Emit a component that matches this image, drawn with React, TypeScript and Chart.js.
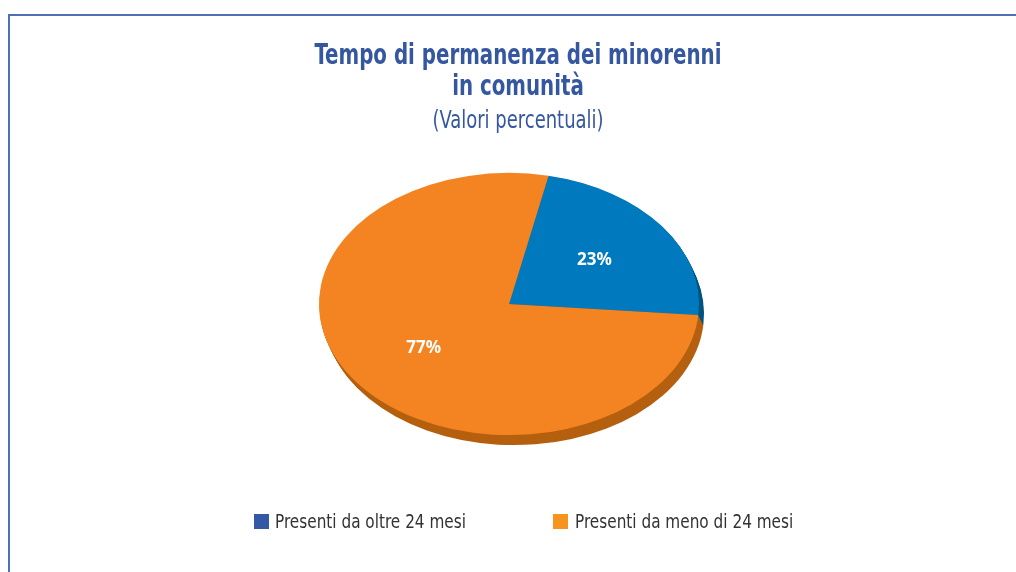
import React, { useEffect, useRef } from "react";
import { Chart, registerables } from "chart.js";

Chart.register(...registerables);

const categories = ["Presenti da oltre 24 mesi", "Presenti da meno di 24 mesi"];
const values = [23, 77];
const sliceColors = ["#0079BE", "#F38421"];
const sideColors = ["#00557F", "#B5600F"];
const legendColors = ["#3359A4", "#F7941D"];
const titleLines = ["Tempo di permanenza dei minorenni", "in comunità"];
const subtitleText = "(Valori percentuali)";

const PIE_CX = 509;
const PIE_CY = 304;
const PIE_R = 190;
const PIE_K = 0.69;
const PIE_DEPTH = 10;
const PIE_DX = 0.5;

const FONT = "'DejaVu Sans Condensed', 'DejaVu Sans', sans-serif";

const pie3d = {
  id: "pie3d",
  beforeDatasetsDraw(chart: any) {
    const meta = chart.getDatasetMeta(0);
    if (!meta.data.length) return;
    const ctx = chart.ctx;
    const cx = meta.data[0].x;
    const cy = meta.data[0].y;
    ctx.save();
    ctx.translate(PIE_CX, PIE_CY);
    ctx.scale(1, PIE_K);
    ctx.translate(-cx, -cy);
    for (let i = PIE_DEPTH; i >= 1; i--) {
      meta.data.forEach((arc: any, idx: number) => {
        const ox = cx + i * PIE_DX;
        const oy = cy + i / PIE_K;
        ctx.beginPath();
        ctx.moveTo(ox, oy);
        ctx.arc(ox, oy, arc.outerRadius, arc.startAngle, arc.endAngle);
        ctx.closePath();
        ctx.fillStyle = sideColors[idx];
        ctx.fill();
      });
    }
  },
  afterDatasetsDraw(chart: any) {
    const meta = chart.getDatasetMeta(0);
    if (!meta.data.length) return;
    const ctx = chart.ctx;
    ctx.restore();
    ctx.save();
    ctx.fillStyle = "#ffffff";
    ctx.font = "bold 17px 'Noto Sans'";
    ctx.textAlign = "center";
    ctx.textBaseline = "middle";
    const total = values.reduce((a, b) => a + b, 0);
    meta.data.forEach((arc: any, idx: number) => {
      const mid = (arc.startAngle + arc.endAngle) / 2;
      const f = 0.56;
      const x = PIE_CX + Math.cos(mid) * arc.outerRadius * f;
      const y = PIE_CY + Math.sin(mid) * arc.outerRadius * f * PIE_K;
      ctx.fillText(Math.round((values[idx] / total) * 100) + "%", x, y);
    });
    ctx.restore();
  },
};

const lineStyle = (top: number, size: number, lh: number, weight: string, sx: number): React.CSSProperties => ({
  position: "absolute",
  left: 0,
  width: 1036,
  top,
  textAlign: "center",
  fontFamily: FONT,
  fontSize: size,
  lineHeight: lh + "px",
  fontWeight: weight as any,
  color: "#3557A0",
  whiteSpace: "nowrap",
  transform: `scaleX(${sx})`,
  transformOrigin: "50% 50%",
});

export default function App() {
  const ref = useRef<HTMLCanvasElement | null>(null);
  useEffect(() => {
    document.body.style.overflow = "hidden";
    const chart = new Chart(ref.current!, {
      type: "pie",
      data: {
        labels: categories,
        datasets: [
          {
            data: values,
            backgroundColor: sliceColors,
            borderWidth: 0,
            radius: PIE_R,
            clip: false,
          } as any,
        ],
      },
      options: {
        responsive: false,
        animation: false,
        rotation: 12,
        events: [],
        plugins: {
          legend: { display: false },
          tooltip: { enabled: false },
          title: { display: false },
        },
      },
      plugins: [pie3d],
    });
    return () => chart.destroy();
  }, []);

  return (
    <div style={{ position: "fixed", left: 0, top: 0, width: 1016, height: 572, background: "#fff", overflow: "hidden" }}>
      <div
        style={{
          position: "absolute",
          left: 8,
          top: 14,
          width: 1020,
          height: 580,
          borderTop: "2px solid #4F6FB7",
          borderLeft: "2px solid #4F6FB7",
          boxSizing: "border-box",
        }}
      />
      <canvas ref={ref} width={1016} height={572} style={{ position: "absolute", left: 0, top: 0 }} />
      <div style={lineStyle(39, 29, 31, "bold", 0.76)}>{titleLines[0]}</div>
      <div style={lineStyle(70, 29, 31, "bold", 0.76)}>{titleLines[1]}</div>
      <div style={lineStyle(106, 25, 28, "normal", 0.8)}>{subtitleText}</div>
      {categories.map((c, i) => (
        <React.Fragment key={c}>
          <div
            style={{
              position: "absolute",
              left: i === 0 ? 254 : 553,
              top: 514,
              width: 15,
              height: 15,
              background: legendColors[i],
            }}
          />
          <div
            style={{
              position: "absolute",
              left: i === 0 ? 275 : 575,
              top: 511,
              fontFamily: FONT,
              fontSize: 20,
              lineHeight: "21px",
              color: "#333",
              whiteSpace: "nowrap",
              transform: "scaleX(0.85)",
              transformOrigin: "0 50%",
            }}
          >
            {c}
          </div>
        </React.Fragment>
      ))}
    </div>
  );
}
